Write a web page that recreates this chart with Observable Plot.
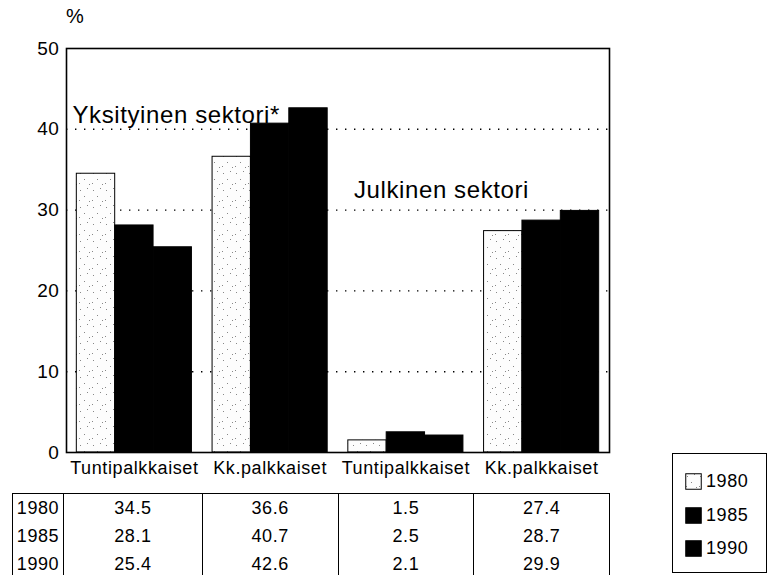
<!DOCTYPE html>
<html><head><meta charset="utf-8">
<script src="https://cdn.jsdelivr.net/npm/d3@7"></script>
<script src="https://cdn.jsdelivr.net/npm/@observablehq/plot@0.6"></script>
<style>
body{margin:0;background:#fff;font-family:"Liberation Sans",Arial,sans-serif;color:#000;}
#wrap{position:relative;width:769px;height:575px;overflow:hidden;background:#fff;}
#wrap svg.chart{position:absolute;left:0;top:0;}
#unit{position:absolute;left:66px;top:5px;font-size:20px;}
table.data{position:absolute;left:12px;top:493px;border-collapse:collapse;table-layout:fixed;font-size:18px;letter-spacing:0.6px;border-top:1.5px solid #000;border-left:1.5px solid #000;}
table.data td{border-right:1.5px solid #000;padding:0;height:28px;line-height:28px;text-align:center;vertical-align:top;}
table.data tr:first-child td{padding-top:2px;}
#legend{position:absolute;left:672px;top:453px;width:95px;height:120px;border:1.5px solid #000;box-sizing:border-box;}
#legend .item{position:absolute;left:12px;display:flex;align-items:center;font-size:18px;letter-spacing:0.6px;}
#legend .item svg{margin-right:4px;}
</style></head><body><div id="wrap"></div>
<script>
const groupLabels = ["Tuntipalkkaiset", "Kk.palkkaiset", "Tuntipalkkaiset", "Kk.palkkaiset"];
const years = ["1980", "1985", "1990"];
const values1980 = [34.5, 36.6, 1.5, 27.4];
const values1985 = [28.1, 40.7, 2.5, 28.7];
const values1990 = [25.4, 42.6, 2.1, 29.9];
const yTicks = [0, 10, 20, 30, 40, 50];
const gridLines = [10, 20, 30, 40];
const sectorNotes = [
  {text: "Yksityinen sektori*", group: 0, value: 40},
  {text: "Julkinen sektori", group: 2, value: 30}
];
const unitLabel = "%";
const yearColors = ["url(#dots)", "#000", "#000"];

const series = [values1980, values1985, values1990];
const outerPad = 0.076, barW = (1 - 2 * outerPad) / years.length;
const bars = [];
groupLabels.forEach((g, i) => years.forEach((yr, j) => bars.push({
  year: yr, value: series[j][i],
  x1: i + outerPad + j * barW, x2: i + outerPad + (j + 1) * barW
})));

const plot = Plot.plot({
  width: 769, height: 492,
  marginLeft: 66, marginRight: 160, marginTop: 48, marginBottom: 40,
  style: {fontFamily: "Liberation Sans, Arial, sans-serif", fontSize: "18px", color: "#000", background: "transparent", letterSpacing: "0.6px", overflow: "visible"},
  x: {domain: [0, groupLabels.length], label: null},
  y: {domain: [0, 50], label: null},
  color: {domain: years, range: yearColors},
  marks: [
    Plot.ruleY(gridLines, {stroke: "#000", strokeWidth: 1.4, strokeDasharray: "1.4,7.6"}),
    Plot.rectY(bars, {x1: "x1", x2: "x2", y: "value", fill: "year", stroke: "#000", strokeWidth: 1}),
    Plot.frame({stroke: "#000", strokeWidth: 1.6}),
    Plot.axisY(yTicks, {tickSize: 0, tickPadding: 7, fontSize: 19, label: null}),
    Plot.axisX(groupLabels.map((d, i) => i + 0.5), {tickSize: 0, tickPadding: 9, fontSize: 18, label: null, tickFormat: (d) => groupLabels[Math.floor(d)]}),
    Plot.text(sectorNotes, {x: "group", y: "value", text: "text", textAnchor: "start", lineAnchor: "bottom", dx: 6, dy: -6, fontSize: 24, filter: (d, i) => i === 0}),
    Plot.text(sectorNotes, {x: "group", y: "value", text: "text", textAnchor: "start", lineAnchor: "bottom", dx: 16, dy: -12, fontSize: 24, filter: (d, i) => i === 1})
  ]
});
plot.classList.add("chart");

function addPattern(svgEl) {
  const defs = d3.select(svgEl).insert("defs", ":first-child");
  const p = defs.append("pattern").attr("id", "dots").attr("patternUnits", "userSpaceOnUse").attr("width", 13).attr("height", 17);
  p.append("rect").attr("width", 13).attr("height", 17).attr("fill", "#fdfdfd");
  [[2, 3], [9, 1], [6, 9], [11, 14], [1, 13]].forEach(([cx, cy]) =>
    p.append("rect").attr("x", cx).attr("y", cy).attr("width", 1).attr("height", 1).attr("fill", "#888"));
}
addPattern(plot);

const wrap = document.getElementById("wrap");
wrap.appendChild(plot);

const unit = document.createElement("div");
unit.id = "unit"; unit.textContent = unitLabel;
wrap.appendChild(unit);

// data table aligned with the x scale
const xs = plot.scale("x");
const table = document.createElement("table");
table.className = "data";
const colgroup = document.createElement("colgroup");
const bounds = [12, 63].concat(groupLabels.map((d, i) => xs.apply(i + 1)));
for (let k = 1; k < bounds.length; k++) {
  const c = document.createElement("col");
  c.style.width = (bounds[k] - bounds[k - 1]) + "px";
  colgroup.appendChild(c);
}
table.appendChild(colgroup);
years.forEach((yr, j) => {
  const tr = document.createElement("tr");
  const td0 = document.createElement("td"); td0.textContent = yr; tr.appendChild(td0);
  series[j].forEach(v => {
    const td = document.createElement("td"); td.textContent = v.toFixed(1); tr.appendChild(td);
  });
  table.appendChild(tr);
});
const trEnd = document.createElement("tr");
for (let k = 0; k <= groupLabels.length; k++) { const td = document.createElement("td"); td.style.height = "20px"; trEnd.appendChild(td); }
table.appendChild(trEnd);
wrap.appendChild(table);

// legend
const legend = document.createElement("div");
legend.id = "legend";
const cs = plot.scale("color");
years.forEach((yr, j) => {
  const item = document.createElement("div");
  item.className = "item";
  item.style.top = (17 + j * 33.5) + "px";
  const sw = d3.create("svg").attr("width", 17).attr("height", 17);
  sw.append("rect").attr("x", 0.75).attr("y", 0.75).attr("width", 15.5).attr("height", 15.5)
    .attr("fill", cs.apply(yr)).attr("stroke", "#000").attr("stroke-width", 1);
  item.appendChild(sw.node());
  const t = document.createElement("span"); t.textContent = yr;
  item.appendChild(t);
  legend.appendChild(item);
});
wrap.appendChild(legend);
</script></body></html>
